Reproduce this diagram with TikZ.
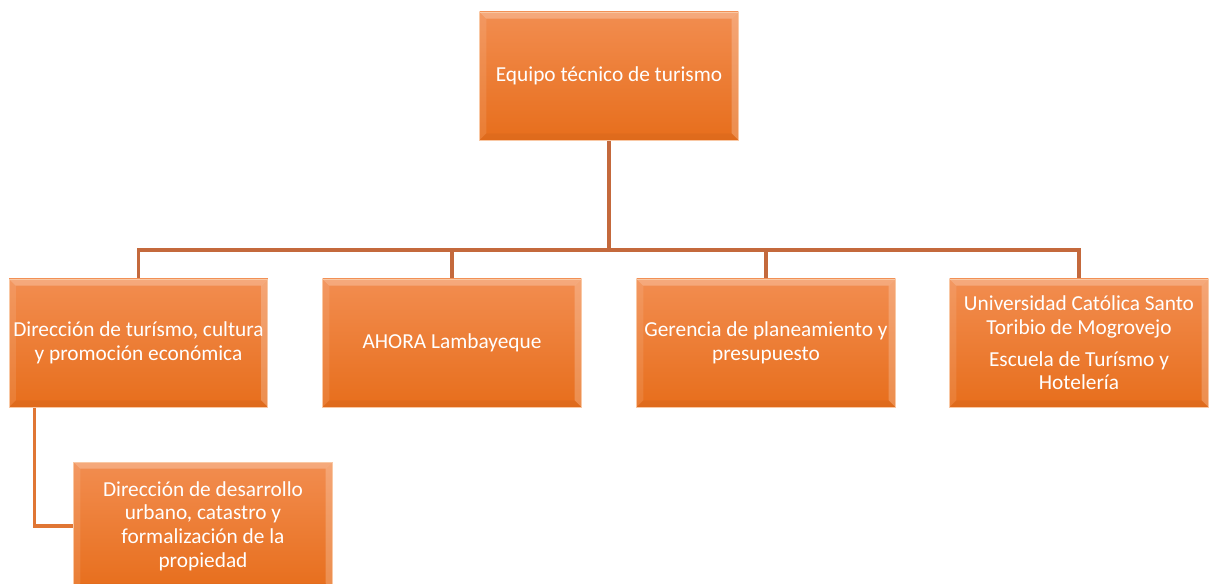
\documentclass[tikz,border=0pt]{standalone}
\usepackage{fontspec}
\setmainfont{Carlito}
\usetikzlibrary{calc}
\pgfdeclarelayer{bg}
\pgfsetlayers{bg,main}
\definecolor{boxtop}{HTML}{F28D50}
\definecolor{boxbot}{HTML}{E76E1C}
\definecolor{boxedge}{HTML}{F9C8A4}
\definecolor{linetop}{HTML}{C4693C}
\definecolor{lineside}{HTML}{E07634}
\tikzset{
  orgbox/.style={rectangle, minimum width=194pt, minimum height=96pt, inner sep=0pt,
    top color=boxtop, bottom color=boxbot, draw=boxedge, line width=0.6pt,
    text=white, align=center, font=\fontsize{16}{17.8}\selectfont,
    path picture={
      \fill[white,opacity=.25] (path picture bounding box.north west) -- (path picture bounding box.north east)
        -- ([shift={(-5pt,-5pt)}]path picture bounding box.north east) -- ([shift={(5pt,-5pt)}]path picture bounding box.north west) -- cycle;
      \fill[white,opacity=.1] (path picture bounding box.north west) -- ([shift={(5pt,-5pt)}]path picture bounding box.north west)
        -- ([shift={(5pt,5pt)}]path picture bounding box.south west) -- (path picture bounding box.south west) -- cycle;
      \fill[white,opacity=.22] (path picture bounding box.north east) -- ([shift={(-5pt,-5pt)}]path picture bounding box.north east)
        -- ([shift={(-5pt,5pt)}]path picture bounding box.south east) -- (path picture bounding box.south east) -- cycle;
      \fill[black,opacity=.03] (path picture bounding box.south west) -- ([shift={(5pt,5pt)}]path picture bounding box.south west)
        -- ([shift={(-5pt,5pt)}]path picture bounding box.south east) -- (path picture bounding box.south east) -- cycle;
    }},
  mainline/.style={draw=linetop, line width=2.3pt},
  sideline/.style={draw=lineside, line width=2.3pt}
}
\begin{document}
\begin{tikzpicture}[x=0.75pt,y=-0.75pt]
\useasboundingbox (0,0) rectangle (1209,584);
\node[orgbox] (top) at (609,76) {Equipo técnico de turismo};
\node[orgbox] (c1) at (138.5,343) {Dirección de turísmo, cultura\\y promoción económica};
\node[orgbox] (c2) at (452,343) {AHORA Lambayeque};
\node[orgbox] (c3) at (766,343) {Gerencia de planeamiento y\\presupuesto};
\node[orgbox] (c4) at (1079,343) {Universidad Católica Santo\\Toribio de Mogrovejo\\[6pt]Escuela de Turísmo y\\Hotelería};
\node[orgbox] (c5) at (203,526) {Dirección de desarrollo\\urbano, catastro y\\formalización de la\\propiedad};
\coordinate (bus) at (609,250);
\coordinate (drop) at ([xshift=19.5pt]c1.south west);
\begin{pgfonlayer}{bg}
\draw[mainline] (top.south) -- (bus);
\draw[mainline] (bus) -| (c1.north);
\draw[mainline] (bus) -| (c2.north);
\draw[mainline] (bus) -| (c3.north);
\draw[mainline] (bus) -| (c4.north);
\draw[sideline] (drop) |- (c5.west);
\end{pgfonlayer}
\end{tikzpicture}
\end{document}
